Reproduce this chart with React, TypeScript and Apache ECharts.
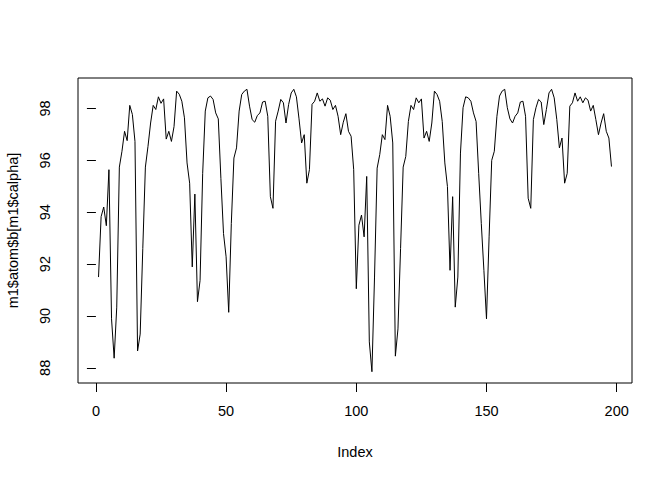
import React, { useEffect, useRef } from "react";
import * as echarts from "echarts";

const values: number[] = [
  91.5, 93.83, 94.2, 93.48, 95.64, 89.89, 88.37, 90.34, 95.74, 96.35,
  97.12, 96.76, 98.12, 97.77, 96.73, 88.65, 89.3, 92.6, 95.74, 96.54,
  97.44, 98.12, 97.96, 98.45, 98.2, 98.37, 96.82, 97.12, 96.73, 97.3,
  98.67, 98.55, 98.28, 97.64, 95.9, 95.12, 91.89, 94.7, 90.55, 91.37,
  95.5, 97.9, 98.41, 98.48, 98.35, 97.83, 97.6, 95.3, 93.18, 92.28,
  90.14, 93.57, 96.09, 96.48, 97.9, 98.54, 98.67, 98.74, 98.09, 97.57,
  97.47, 97.73, 97.83, 98.25, 98.28, 97.7, 94.6, 94.15, 97.51, 97.9,
  98.35, 98.22, 97.44, 98.15, 98.6, 98.74, 98.45, 97.6, 96.67, 96.99,
  95.12, 95.64, 98.16, 98.28, 98.6, 98.28, 98.37, 98.09, 98.41, 98.32,
  97.96, 98.12, 97.7, 96.99, 97.47, 97.8, 97.12, 96.93, 95.64, 91.05,
  93.5, 93.89, 93.05, 95.38, 89.0, 87.85, 91.5, 95.7, 96.22, 96.99,
  96.8, 98.12, 97.7, 96.67, 88.45, 89.5, 92.6, 95.74, 96.15, 97.5,
  98.12, 97.96, 98.41, 98.22, 98.37, 96.86, 97.12, 96.73, 97.44, 98.67,
  98.54, 98.28, 97.5, 95.9, 94.99, 91.76, 94.6, 90.34, 91.5, 96.28,
  98.03, 98.45, 98.41, 98.28, 97.83, 97.5, 95.5, 93.57, 91.76, 89.89,
  93.05, 96.0, 96.35, 97.7, 98.48, 98.67, 98.74, 98.03, 97.6, 97.44,
  97.7, 97.83, 98.25, 98.28, 97.7, 94.54, 94.15, 97.57, 98.03, 98.35,
  98.25, 97.38, 97.96, 98.6, 98.74, 98.41, 97.57, 96.48, 96.86, 95.12,
  95.5, 98.09, 98.22, 98.6, 98.28, 98.45, 98.22, 98.41, 98.32, 97.9,
  98.12, 97.57, 96.99, 97.44, 97.8, 97.12, 96.86, 95.76,
];

const xTicks: number[] = [0, 50, 100, 150, 200];
const yTicks: number[] = [88, 90, 92, 94, 96, 98];
const xTitle = "Index";
const yTitle = "m1$atom$b[m1$calpha]";

export default function App() {
  const ref = useRef<HTMLDivElement>(null);
  useEffect(() => {
    if (!ref.current) return;
    const chart = echarts.init(ref.current, null, { renderer: "svg" });
    const n = values.length;
    const ymin = Math.min(...values);
    const ymax = Math.max(...values);
    const yr = ymax - ymin;
    const xr = n - 1;
    const font = "Liberation Sans, Arial, Helvetica, sans-serif";
    const fs = 14.5;
    chart.setOption({
      animation: false,
      backgroundColor: "#ffffff",
      grid: {
        show: true,
        left: 78,
        right: 40,
        top: 78,
        bottom: 97,
        borderColor: "#000",
        borderWidth: 1,
        backgroundColor: "transparent",
        containLabel: false,
        outerBoundsMode: "none",
      },
      xAxis: {
        type: "value",
        min: 1 - 0.04 * xr,
        max: n + 0.04 * xr,
        name: xTitle,
        nameLocation: "middle",
        nameGap: 61,
        nameTextStyle: { fontFamily: font, fontSize: fs, color: "#000" },
        axisLine: { show: false },
        splitLine: { show: false },
        axisTick: {
          show: true,
          inside: false,
          length: 9,
          customValues: xTicks,
          lineStyle: { color: "#000", width: 1 },
        },
        axisLabel: {
          show: true,
          customValues: xTicks,
          margin: 20,
          fontFamily: font,
          fontSize: fs,
          color: "#000",
        },
      },
      yAxis: {
        type: "value",
        min: ymin - 0.04 * yr,
        max: ymax + 0.04 * yr,
        name: yTitle,
        nameLocation: "middle",
        nameGap: 58,
        nameTextStyle: { fontFamily: font, fontSize: fs, color: "#000" },
        axisLine: { show: false },
        splitLine: { show: false },
        axisTick: {
          show: true,
          inside: false,
          length: 9,
          customValues: yTicks,
          lineStyle: { color: "#000", width: 1 },
        },
        axisLabel: {
          show: true,
          customValues: yTicks,
          rotate: 90,
          margin: 26,
          fontFamily: font,
          fontSize: fs,
          color: "#000",
        },
      },
      series: [
        {
          type: "line",
          data: values.map((v, i) => [i + 1, v]),
          showSymbol: false,
          symbol: "none",
          lineStyle: { color: "#000", width: 1 },
          silent: true,
        },
      ],
    });
    return () => chart.dispose();
  }, []);
  return (
    <div
      ref={ref}
      style={{ position: "absolute", left: 0, top: 0, width: 672, height: 480 }}
    />
  );
}
